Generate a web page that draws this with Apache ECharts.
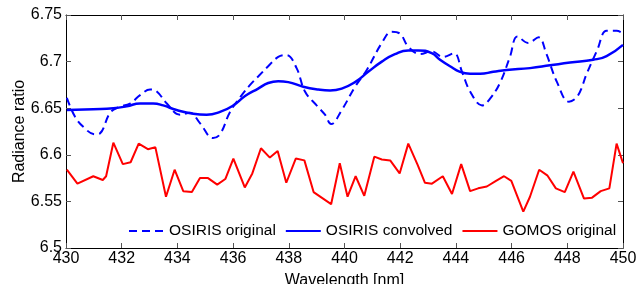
<!DOCTYPE html>
<html>
<head>
<meta charset="utf-8">
<script src="https://cdn.jsdelivr.net/npm/echarts@6/dist/echarts.min.js"></script>
<style>html,body{margin:0;padding:0;background:#fff}#c{width:636px;height:284px}</style>
</head>
<body>
<div id="c"></div>
<script>
var xTicks = [430,432,434,436,438,440,442,444,446,448,450];
var yTicks = [6.5,6.55,6.6,6.65,6.7,6.75];

var osirisOrigWl = [430.03,430.32,430.62,431.04,431.22,431.58,431.88,432.30,432.66,433.02,433.26,433.62,434.09,434.45,434.81,435.28,435.53,435.89,436.31,436.61,436.90,437.26,437.62,437.92,438.28,438.58,439.00,439.30,439.52,439.90,440.38,440.80,441.34,441.69,441.99,442.29,442.71,443.13,443.54,443.93,444.22,444.51,444.94,445.22,445.58,445.94,446.21,446.59,446.97,447.24,447.63,448.06,448.37,448.71,449.07,449.41,449.77,450.0];
var osirisOrigVal = [6.661,6.641,6.630,6.622,6.623,6.645,6.651,6.655,6.664,6.670,6.668,6.655,6.643,6.645,6.634,6.618,6.622,6.646,6.664,6.675,6.684,6.695,6.705,6.707,6.693,6.668,6.653,6.643,6.633,6.648,6.673,6.691,6.720,6.732,6.730,6.716,6.708,6.711,6.705,6.709,6.689,6.668,6.653,6.660,6.677,6.705,6.727,6.720,6.726,6.709,6.678,6.657,6.663,6.688,6.712,6.733,6.733,6.730];

var osirisConvWl = [430.03,430.98,431.70,432.18,432.66,433.13,433.49,433.97,434.57,435.05,435.53,436.01,436.43,436.90,437.26,437.62,437.98,438.52,439.06,439.48,439.90,440.38,440.85,441.34,441.81,442.29,442.65,443.13,443.43,443.79,444.15,444.51,444.87,445.34,445.82,446.66,447.38,448.10,448.93,449.41,450.0];
var osirisConvVal = [6.648,6.649,6.650,6.652,6.655,6.655,6.653,6.648,6.644,6.643,6.646,6.653,6.663,6.671,6.677,6.679,6.678,6.673,6.670,6.669,6.671,6.678,6.689,6.700,6.708,6.712,6.712,6.709,6.702,6.695,6.689,6.687,6.687,6.689,6.691,6.693,6.696,6.699,6.702,6.706,6.718];

var gomosWl = [430.03,430.41,430.98,431.32,431.44,431.70,432.04,432.32,432.61,432.94,433.21,433.59,433.90,434.21,434.52,434.81,435.10,435.43,435.72,436.01,436.42,436.69,437.00,437.32,437.60,437.91,438.25,438.56,438.89,439.52,439.83,440.11,440.40,440.71,441.07,441.34,441.64,441.98,442.29,442.63,442.89,443.14,443.53,443.86,444.19,444.51,444.80,445.11,445.44,445.73,445.99,446.42,446.66,446.99,447.28,447.59,447.91,448.22,448.60,448.89,449.20,449.51,449.77,450.0];
var gomosVal = [6.584,6.569,6.577,6.573,6.577,6.613,6.590,6.592,6.612,6.606,6.608,6.555,6.584,6.561,6.560,6.575,6.575,6.568,6.574,6.596,6.565,6.580,6.607,6.597,6.604,6.570,6.596,6.594,6.560,6.547,6.591,6.555,6.577,6.556,6.598,6.595,6.594,6.580,6.612,6.589,6.570,6.569,6.577,6.558,6.590,6.561,6.564,6.566,6.572,6.577,6.572,6.539,6.555,6.584,6.578,6.564,6.560,6.582,6.553,6.554,6.561,6.564,6.612,6.591];

function pairs(a, b) { return a.map(function (v, i) { return [v, b[i]]; }); }

var FONT = 'Liberation Sans, Arial, Helvetica, sans-serif';
var chart = echarts.init(document.getElementById('c'), null, {renderer: 'canvas'});
var baseX = {
  type: 'value', min: xTicks[0], max: xTicks[xTicks.length - 1], interval: 2,
  axisLine: {show: true, onZero: false, lineStyle: {color: '#000', width: 1}},
  axisTick: {show: true, inside: true, length: 5, lineStyle: {color: '#555'}},
  splitLine: {show: false}
};
var baseY = {
  type: 'value', min: yTicks[0], max: yTicks[yTicks.length - 1], interval: 0.05,
  axisLine: {show: true, onZero: false, lineStyle: {color: '#000', width: 1}},
  axisTick: {show: true, inside: true, length: 5, lineStyle: {color: '#555'}},
  splitLine: {show: false}
};
chart.setOption({
  animation: false,
  grid: {left: 66, right: 13, top: 15, bottom: 36, containLabel: false, outerBoundsMode: 'none'},
  legend: {
    left: 128, top: 223, padding: 0, itemWidth: 35, itemHeight: 14, itemGap: 9,
    itemStyle: {opacity: 0},
    textStyle: {fontFamily: FONT, fontSize: 15.5, color: '#000'},
    data: ['OSIRIS original', 'OSIRIS convolved', 'GOMOS original']
  },
  xAxis: [
    Object.assign({}, baseX, {
      position: 'bottom',
      name: 'Wavelength [nm]', nameLocation: 'middle', nameGap: 25, nameMoveOverlap: false,
      nameTextStyle: {fontFamily: FONT, fontSize: 16, color: '#000'},
      axisLabel: {show: true, margin: 3, fontFamily: FONT, fontSize: 16, color: '#000'}
    }),
    Object.assign({}, baseX, {position: 'top', axisLabel: {show: false}})
  ],
  yAxis: [
    Object.assign({}, baseY, {
      position: 'left',
      name: 'Radiance ratio', nameLocation: 'middle', nameGap: 38, nameMoveOverlap: false,
      nameTextStyle: {fontFamily: FONT, fontSize: 16, color: '#000'},
      axisLabel: {show: true, margin: 4, fontFamily: FONT, fontSize: 16, color: '#000'}
    }),
    Object.assign({}, baseY, {position: 'right', axisLabel: {show: false}})
  ],
  series: [
    {
      name: 'OSIRIS original', type: 'line', symbol: 'none', smooth: 0.4,
      data: pairs(osirisOrigWl, osirisOrigVal),
      lineStyle: {color: '#0000ff', width: 2, type: [8, 5]},
      itemStyle: {color: '#0000ff'}
    },
    {
      name: 'OSIRIS convolved', type: 'line', symbol: 'none', smooth: 0.5,
      data: pairs(osirisConvWl, osirisConvVal),
      lineStyle: {color: '#0000ff', width: 2.5},
      itemStyle: {color: '#0000ff'}
    },
    {
      name: 'GOMOS original', type: 'line', symbol: 'none',
      data: pairs(gomosWl, gomosVal),
      lineStyle: {color: '#ff0000', width: 2},
      itemStyle: {color: '#ff0000'}
    }
  ]
});
</script>
</body>
</html>
